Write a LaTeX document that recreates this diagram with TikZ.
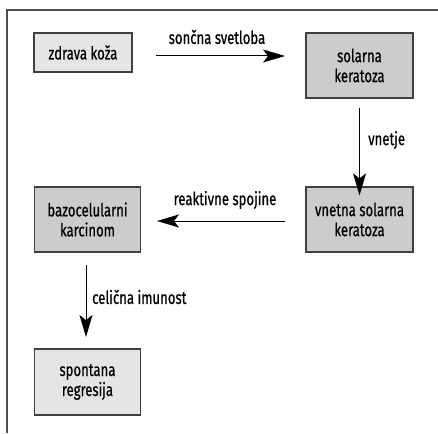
\documentclass[tikz,border=0pt]{standalone}
\usepackage{fontspec}
\setmainfont[FakeStretch=0.73,FakeBold=0.6]{Fira Sans}
\usetikzlibrary{arrows.meta}
\begin{document}
\begin{tikzpicture}[x=1pt,y=-1pt,
  txt/.style={font=\fontsize{18}{20}\selectfont},
  lightbox/.style={txt,draw=black!75,line width=1.2pt,fill=black!10,minimum height=39pt,inner sep=0pt,align=center},
  darkbox/.style={txt,draw=black!75,line width=1.2pt,fill=black!20,minimum height=65pt,inner sep=0pt,align=center},
  arr/.style={line width=1pt,-{Stealth[length=22pt,width=13pt,inset=5pt]}},
  lbl/.style={txt,inner sep=0pt}]
\useasboundingbox (0,0) rectangle (438,433);
\fill[white] (0,0) rectangle (438,433);
\draw[black!70,line width=1.4pt] (7,433) -- (7,10) -- (438,10);
\node[lightbox,minimum width=98pt,minimum height=39pt] (zk) at (83,52.5) {zdrava koža};
\node[darkbox,minimum width=107pt] (sk) at (359.5,65.5) {solarna\\keratoza};
\node[darkbox,minimum width=107pt] (vsk) at (359.5,219.5) {vnetna solarna\\keratoza};
\node[darkbox,minimum width=106pt] (bk) at (87.5,219.5) {bazocelularni\\karcinom};
\node[lightbox,minimum width=106pt,minimum height=66pt] (sr) at (87.5,382) {spontana\\regresija};
\coordinate (a1s) at (156,56);
\coordinate (a1e) at (285,56);
\draw[arr] (a1s) -- (a1e);
\node[lbl] (l1) at (217,37) {sončna svetloba};
\draw[arr] (sk.south) ++(0,9) coordinate (a2s) -- ([yshift=-9pt]vsk.north) coordinate (a2e);
\node[lbl,anchor=west] (l2) at (368,140) {vnetje};
\coordinate (a3s) at (285,221);
\coordinate (a3e) at (157,221);
\draw[arr] (a3s) -- (a3e);
\node[lbl] (l3) at (225,200) {reaktivne spojine};
\coordinate (a4s) at (86,265);
\coordinate (a4e) at (86,337);
\draw[arr] (a4s) -- (a4e);
\node[lbl,anchor=west] (l4) at (92,297) {celična imunost};
\end{tikzpicture}
\end{document}
